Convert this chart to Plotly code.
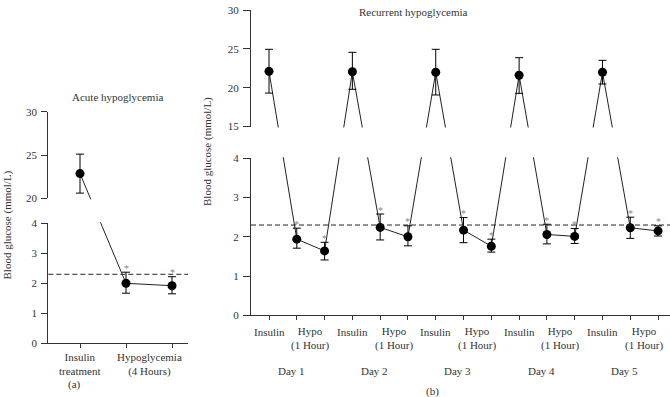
import plotly.graph_objects as go

W, H = 670, 397

# ---------------- data ----------------
# Panel (a): acute hypoglycemia
a_labels = ["Insulin<br>treatment", "Hypoglycemia<br>(4 Hours)"]
a_insulin_mean = [22.85]
a_insulin_up = [2.25]
a_insulin_down = [2.25]
a_hypo_mean = [2.0, 1.92]
a_hypo_up = [0.37, 0.30]
a_hypo_down = [0.33, 0.27]

# Panel (b): recurrent hypoglycemia
b_days = ["Day 1", "Day 2", "Day 3", "Day 4", "Day 5"]
b_insulin_label = "Insulin"
b_hypo_label = "Hypo<br>(1 Hour)"
b_insulin_mean = [22.1, 22.05, 21.98, 21.6, 21.98]
b_insulin_up = [2.84, 2.5, 2.96, 2.26, 1.54]
b_insulin_down = [2.8, 2.26, 2.92, 2.33, 1.51]
b_hypo1_mean = [1.94, 2.24, 2.17, 2.06, 2.23]
b_hypo1_up = [0.28, 0.34, 0.32, 0.26, 0.27]
b_hypo1_down = [0.23, 0.32, 0.32, 0.24, 0.27]
b_hypo2_mean = [1.64, 2.0, 1.76, 2.01, 2.15]
b_hypo2_up = [0.22, 0.28, 0.18, 0.20, 0.13]
b_hypo2_down = [0.23, 0.23, 0.15, 0.18, 0.13]

threshold = 2.3

a_bottom_range = [0, 4]
a_top_range = [20, 30]
a_bottom_ticks = [0, 1, 2, 3, 4]
a_top_ticks = [20, 25, 30]
b_bottom_range = [0, 4]
b_top_range = [15, 30]
b_bottom_ticks = [0, 1, 2, 3, 4]
b_top_ticks = [15, 20, 25, 30]

# ---------------- layout geometry (pixels -> paper) ----------------
def px_x(p):
    return p / W

def px_y(p):
    return 1 - p / H

a_xdom = [px_x(48.3), px_x(188)]
a_bot = [px_y(343.3), px_y(223.3)]
a_top = [px_y(198.3), px_y(111.7)]
a_xrange = [(48.3 - 80) / 46, (188 - 80) / 46]

b_xdom = [px_x(251), px_x(670)]
b_bot = [px_y(315.3), px_y(158.3)]
b_top = [px_y(126.5), px_y(10)]
b_xrange = [(251 - 269) / 27.79, (670 - 269) / 27.79]


def to_paper(v, dom, rng):
    return dom[0] + (v - rng[0]) / (rng[1] - rng[0]) * (dom[1] - dom[0])


FONT = "Liberation Serif, Times New Roman, serif"
TXT = "#333333"
AX = "#333333"

fig = go.Figure()

# ---------- Panel (a) ----------
a_x_ins = [0]
a_x_hypo = [1, 2]
a_line_x = a_x_ins + a_x_hypo
a_line_y = [to_paper(v, a_top, a_top_range) for v in a_insulin_mean] + \
           [to_paper(v, a_bot, a_bottom_range) for v in a_hypo_mean]
fig.add_trace(go.Scatter(x=a_line_x, y=a_line_y, mode="lines",
                         line=dict(color="#222222", width=1),
                         xaxis="x", yaxis="y", showlegend=False, hoverinfo="skip"))
fig.add_trace(go.Scatter(x=a_x_hypo, y=a_hypo_mean, mode="markers",
                         marker=dict(color="black", size=9),
                         error_y=dict(type="data", symmetric=False, array=a_hypo_up,
                                      arrayminus=a_hypo_down, color="black",
                                      thickness=1, width=4),
                         xaxis="x", yaxis="y2", showlegend=False))
fig.add_trace(go.Scatter(x=a_x_ins, y=a_insulin_mean, mode="markers",
                         marker=dict(color="black", size=9),
                         error_y=dict(type="data", symmetric=False, array=a_insulin_up,
                                      arrayminus=a_insulin_down, color="black",
                                      thickness=1, width=4),
                         xaxis="x", yaxis="y3", showlegend=False))

# ---------- Panel (b) ----------
b_x_ins = [3 * d for d in range(5)]
b_x_h1 = [3 * d + 1 for d in range(5)]
b_x_h2 = [3 * d + 2 for d in range(5)]
b_line_x, b_line_y = [], []
for d in range(5):
    b_line_x += [b_x_ins[d], b_x_h1[d], b_x_h2[d]]
    b_line_y += [to_paper(b_insulin_mean[d], b_top, b_top_range),
                 to_paper(b_hypo1_mean[d], b_bot, b_bottom_range),
                 to_paper(b_hypo2_mean[d], b_bot, b_bottom_range)]
fig.add_trace(go.Scatter(x=b_line_x, y=b_line_y, mode="lines",
                         line=dict(color="#222222", width=1),
                         xaxis="x2", yaxis="y4", showlegend=False, hoverinfo="skip"))
for xs, ms, up, dn in [(b_x_h1, b_hypo1_mean, b_hypo1_up, b_hypo1_down),
                       (b_x_h2, b_hypo2_mean, b_hypo2_up, b_hypo2_down)]:
    fig.add_trace(go.Scatter(x=xs, y=ms, mode="markers",
                             marker=dict(color="black", size=9),
                             error_y=dict(type="data", symmetric=False, array=up,
                                          arrayminus=dn, color="black",
                                          thickness=1, width=4),
                             xaxis="x2", yaxis="y5", showlegend=False))
fig.add_trace(go.Scatter(x=b_x_ins, y=b_insulin_mean, mode="markers",
                         marker=dict(color="black", size=9),
                         error_y=dict(type="data", symmetric=False, array=b_insulin_up,
                                      arrayminus=b_insulin_down, color="black",
                                      thickness=1, width=4),
                         xaxis="x2", yaxis="y6", showlegend=False))

# ---------- axes ----------
def yax(dom, rng, ticks, anchor, ticklen):
    return dict(domain=dom, range=rng, tickvals=ticks, anchor=anchor,
                showline=True, linecolor=AX, linewidth=1, ticks="outside",
                ticklen=ticklen, tickcolor=AX, tickwidth=1, showgrid=False,
                zeroline=False, tickfont=dict(family=FONT, size=11, color=TXT),
                ticklabelstandoff=2, automargin=False)

def hidden_y(dom, anchor):
    return dict(domain=[dom[0], dom[1]], range=[dom[0], dom[1]], anchor=anchor,
                visible=False, showgrid=False, zeroline=False, automargin=False)

def xax(dom, rng, ticks, anchor):
    return dict(domain=dom, range=rng, tickvals=ticks, anchor=anchor,
                showline=True, linecolor=AX, linewidth=1, ticks="outside",
                ticklen=4, tickcolor=AX, showticklabels=False, showgrid=False,
                zeroline=False, automargin=False)

fig.update_layout(
    width=W, height=H, margin=dict(l=0, r=0, t=0, b=0, pad=0, autoexpand=False),
    paper_bgcolor="white", plot_bgcolor="rgba(0,0,0,0)",
    font=dict(family=FONT, size=11, color=TXT),
    xaxis=xax(a_xdom, a_xrange, [0, 1, 2], "y2"),
    xaxis2=xax(b_xdom, b_xrange, list(range(15)), "y5"),
    yaxis=hidden_y([a_bot[0], a_top[1]], "x"),
    yaxis2=yax(a_bot, a_bottom_range, a_bottom_ticks, "x", 6),
    yaxis3=yax(a_top, a_top_range, a_top_ticks, "x", 6),
    yaxis4=hidden_y([b_bot[0], b_top[1]], "x2"),
    yaxis5=yax(b_bot, b_bottom_range, b_bottom_ticks, "x2", 7),
    yaxis6=yax(b_top, b_top_range, b_top_ticks, "x2", 7),
)

shapes = []
for xr, yr in [("x domain", "y2"), ("x2 domain", "y5")]:
    shapes.append(dict(type="line", xref=xr, x0=0, x1=1, yref=yr, y0=threshold,
                       y1=threshold, line=dict(color="#222222", width=1, dash="5px,3px")))
for xd, bot, top in [(a_xdom, a_bot, a_top), (b_xdom, b_bot, b_top)]:
    shapes.append(dict(type="rect", xref="paper", yref="paper",
                       x0=xd[0] + 1 / W, x1=xd[1], y0=bot[1] + 1 / H, y1=top[0] - 1 / H,
                       fillcolor="white", line=dict(width=0), layer="above"))
fig.update_layout(shapes=shapes)

ann = []
def text(x, y, s, xref="paper", yref="paper", size=11, color=TXT, angle=0, yshift=0):
    ann.append(dict(x=x, y=y, xref=xref, yref=yref, text=s, showarrow=False,
                    xanchor="center", yanchor="middle", textangle=angle, yshift=yshift,
                    font=dict(family=FONT, size=size, color=color)))

text(a_x_ins[0], px_y(364), a_labels[0], xref="x")
text((a_x_hypo[0] + a_x_hypo[1]) / 2, px_y(364.5), a_labels[1], xref="x")
for xv, m, u in zip(a_x_hypo, a_hypo_mean, a_hypo_up):
    text(xv, m + u, "*", xref="x", yref="y2", size=10, color="#888888", yshift=4)
text(px_x(118), px_y(97), "Acute hypoglycemia")
text(px_x(6.5), px_y(225), "Blood glucose (mmol/L)", angle=-90)
text(px_x(74), px_y(384), "(a)")

for d in range(5):
    text(b_x_ins[d], px_y(332), b_insulin_label, xref="x2")
    text((b_x_h1[d] + b_x_h2[d]) / 2, px_y(338.5), b_hypo_label, xref="x2")
    text(b_x_ins[d] + 0.8, px_y(371), b_days[d], xref="x2")
    for xv, m, u in [(b_x_h1[d], b_hypo1_mean[d], b_hypo1_up[d]),
                     (b_x_h2[d], b_hypo2_mean[d], b_hypo2_up[d])]:
        text(xv, m + u, "*", xref="x2", yref="y5", size=10, color="#888888", yshift=4)
text(px_x(413), px_y(12), "Recurrent hypoglycemia")
text(px_x(207), px_y(152), "Blood glucose (mmol/L)", angle=-90)
text(px_x(433), px_y(391), "(b)")

fig.update_layout(annotations=ann)

fig.write_html("out.html", config={"displayModeBar": False},
               post_script="document.body.style.margin='0';")
